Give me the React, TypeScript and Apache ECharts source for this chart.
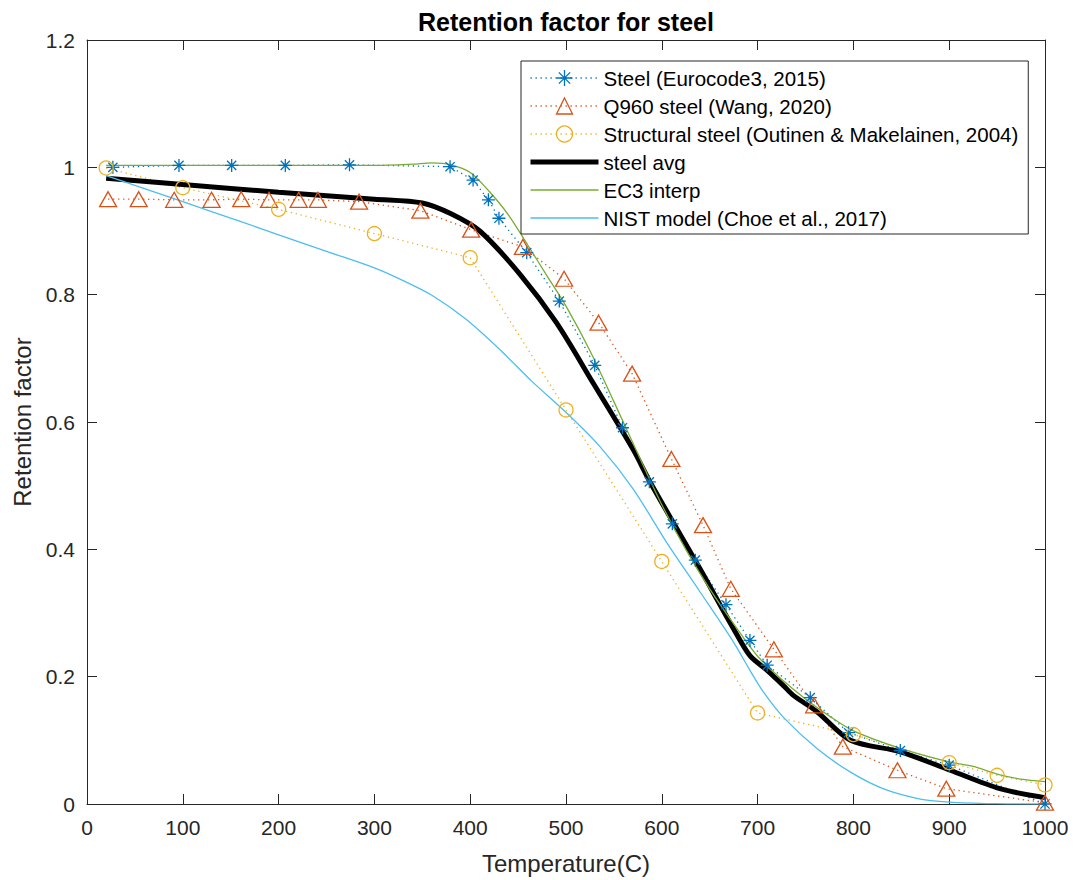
import React, { useEffect, useRef } from "react";
import * as echarts from "echarts";

const FONT = '"Liberation Sans", Arial, Helvetica, sans-serif';
const AXIS_COLOR = "#262626";

// Steel (Eurocode3, 2015)
const ec3Temp = [27, 96, 151, 207, 274, 379, 403, 419, 430, 459, 493, 530, 559, 587, 611, 635, 667, 692, 710, 755, 795, 849, 900, 1000];
const ec3Val = [1.0, 1.003, 1.003, 1.003, 1.004, 1.001, 0.98, 0.949, 0.92, 0.866, 0.79, 0.689, 0.591, 0.506, 0.44, 0.383, 0.313, 0.257, 0.218, 0.167, 0.112, 0.084, 0.061, 0.0];

// Q960 steel (Wang, 2020)
const q960Temp = [22, 54, 91, 130, 161, 190, 221, 241, 284, 348, 401, 455, 498, 534, 569, 610, 643, 672, 717, 759, 789, 846, 897, 1000];
const q960Val = [0.95, 0.95, 0.949, 0.949, 0.95, 0.949, 0.949, 0.949, 0.946, 0.932, 0.902, 0.875, 0.825, 0.756, 0.676, 0.542, 0.438, 0.338, 0.243, 0.155, 0.09, 0.053, 0.024, 0.002];

// Structural steel (Outinen & Makelainen, 2004)
const structTemp = [20, 100, 200, 300, 400, 500, 600, 700, 800, 900, 950, 1000];
const structVal = [0.999, 0.968, 0.934, 0.896, 0.858, 0.619, 0.381, 0.143, 0.109, 0.065, 0.045, 0.03];

// steel avg
const avgTemp = [20, 100, 200, 300, 350, 380, 410, 452, 490, 528, 570, 588, 640, 675, 692, 710, 727, 737, 762, 797, 849, 901, 953, 1000];
const avgVal = [0.983, 0.973, 0.961, 0.95, 0.944, 0.927, 0.9, 0.832, 0.756, 0.662, 0.557, 0.505, 0.369, 0.275, 0.233, 0.21, 0.186, 0.171, 0.145, 0.1, 0.082, 0.053, 0.024, 0.01];

// EC3 interp
const ec3iTemp = [20, 100, 200, 300, 340, 360, 380, 400, 420, 440, 460, 480, 500, 525, 550, 575, 600, 625, 650, 675, 700, 725, 750, 775, 800, 850, 900, 925, 950, 975, 1000];
const ec3iVal = [1.003, 1.003, 1.003, 1.003, 1.005, 1.007, 1.004, 0.992, 0.962, 0.925, 0.878, 0.83, 0.782, 0.712, 0.632, 0.55, 0.47, 0.4, 0.338, 0.283, 0.232, 0.196, 0.165, 0.138, 0.115, 0.087, 0.066, 0.059, 0.047, 0.039, 0.035];

// NIST model (Choe et al., 2017)
const nistTemp = [20, 100, 160, 200, 250, 300, 330, 360, 395, 430, 465, 500, 535, 570, 605, 640, 675, 692, 706, 727, 762, 797, 831, 866, 900, 950, 1000];
const nistVal = [0.987, 0.946, 0.915, 0.894, 0.868, 0.842, 0.822, 0.799, 0.762, 0.715, 0.663, 0.615, 0.562, 0.495, 0.411, 0.333, 0.254, 0.21, 0.176, 0.136, 0.087, 0.05, 0.024, 0.009, 0.003, 0.0005, 0.0];

const seriesNames = [
  "Steel (Eurocode3, 2015)",
  "Q960 steel (Wang, 2020)",
  "Structural steel (Outinen & Makelainen, 2004)",
  "steel avg",
  "EC3 interp",
  "NIST model (Choe et al., 2017)",
];

const BLUE = "#0072BD";
const ORANGE = "#D95319";
const YELLOW = "#EDB120";
const GREEN = "#77AC30";
const LIGHTBLUE = "#4DBEEE";

const ASTERISK = "path://M5,0L5,10M0,5L10,5M1.46,1.46L8.54,8.54M1.46,8.54L8.54,1.46";
const DOT: number[] = [1.3, 3.7];

const zip = (t: number[], v: number[]) => t.map((x, i) => [x, v[i]]);

export default function App() {
  const ref = useRef<HTMLDivElement>(null);

  useEffect(() => {
    if (!ref.current) return;
    const chart = echarts.init(ref.current, undefined, { renderer: "svg" });

    const axisCommon = {
      type: "value" as const,
      axisLine: { show: true, onZero: false, lineStyle: { color: AXIS_COLOR, width: 1 } },
      axisTick: { show: true, inside: true, length: 10, lineStyle: { color: AXIS_COLOR, width: 1 } },
      splitLine: { show: false },
    };

    const transparent = "rgba(0,0,0,0)";

    const option: any = {
      animation: false,
      backgroundColor: "#fff",
      title: {
        text: "Retention factor for steel",
        left: 566,
        top: 9,
        padding: 0,
        textAlign: "center",
        textVerticalAlign: "top",
        textStyle: { fontFamily: FONT, fontSize: 25, fontWeight: "bold", color: "#000" },
      },
      grid: { left: 87, right: 30, top: 40, bottom: 74.5 },
      xAxis: [
        {
          ...axisCommon,
          position: "bottom",
          min: 0,
          max: 1000,
          interval: 100,
          axisLabel: {
            color: AXIS_COLOR,
            fontSize: 21,
            fontFamily: FONT,
            margin: 13,
            formatter: (v: number) => String(v),
          },
          name: "Temperature(C)",
          nameLocation: "middle",
          nameGap: 47,
          nameTextStyle: { fontSize: 24, color: AXIS_COLOR, fontFamily: FONT },
        },
        {
          ...axisCommon,
          position: "top",
          min: 0,
          max: 1000,
          interval: 100,
          axisLabel: { show: false },
        },
      ],
      yAxis: [
        {
          ...axisCommon,
          position: "left",
          min: 0,
          max: 1.2,
          interval: 0.2,
          axisLabel: {
            color: AXIS_COLOR,
            fontSize: 21,
            fontFamily: FONT,
            margin: 12,
            formatter: (v: number) => String(Math.round(v * 10) / 10),
          },
          name: "Retention factor",
          nameLocation: "middle",
          nameGap: 52,
          nameTextStyle: { fontSize: 24, color: AXIS_COLOR, fontFamily: FONT },
        },
        {
          ...axisCommon,
          position: "right",
          min: 0,
          max: 1.2,
          interval: 0.2,
          axisLabel: { show: false },
        },
      ],
      legend: {
        orient: "vertical",
        left: 521,
        top: 61,
        padding: [3, 10, 2, 7],
        itemWidth: 68,
        itemHeight: 20,
        itemGap: 0,
        selectedMode: false,
        backgroundColor: "#fff",
        borderColor: AXIS_COLOR,
        borderWidth: 1,
        textStyle: { fontFamily: FONT, fontSize: 20.5, color: "#000", lineHeight: 28 },
        data: [
          {
            name: seriesNames[0],
            itemStyle: { color: transparent, borderColor: BLUE, borderWidth: 1.3 },
            lineStyle: { color: BLUE, width: 1.3, type: DOT },
          },
          {
            name: seriesNames[1],
            itemStyle: { color: transparent, borderColor: ORANGE, borderWidth: 1.3 },
            lineStyle: { color: ORANGE, width: 1.3, type: DOT },
          },
          {
            name: seriesNames[2],
            itemStyle: { color: transparent, borderColor: YELLOW, borderWidth: 1.3 },
            lineStyle: { color: YELLOW, width: 1.3, type: DOT },
          },
          {
            name: seriesNames[3],
            itemStyle: { opacity: 0 },
            lineStyle: { color: "#000", width: 5, type: "solid" },
          },
          {
            name: seriesNames[4],
            itemStyle: { opacity: 0 },
            lineStyle: { color: GREEN, width: 1.3, type: "solid" },
          },
          {
            name: seriesNames[5],
            itemStyle: { opacity: 0 },
            lineStyle: { color: LIGHTBLUE, width: 1.3, type: "solid" },
          },
        ],
      },
      series: [
        {
          name: seriesNames[0],
          type: "line",
          data: zip(ec3Temp, ec3Val),
          symbol: ASTERISK,
          symbolSize: 13,
          showAllSymbol: true,
          lineStyle: { color: BLUE, width: 1.3, type: DOT },
          itemStyle: { color: transparent, borderColor: BLUE, borderWidth: 1.3 },
          emphasis: { disabled: true },
          silent: true,
        },
        {
          name: seriesNames[1],
          type: "line",
          data: zip(q960Temp, q960Val),
          symbol: "triangle",
          symbolSize: [17, 15],
          showAllSymbol: true,
          lineStyle: { color: ORANGE, width: 1.3, type: DOT },
          itemStyle: { color: transparent, borderColor: ORANGE, borderWidth: 1.3 },
          emphasis: { disabled: true },
          silent: true,
        },
        {
          name: seriesNames[2],
          type: "line",
          data: zip(structTemp, structVal),
          symbol: "circle",
          symbolSize: 14,
          showAllSymbol: true,
          lineStyle: { color: YELLOW, width: 1.3, type: DOT },
          itemStyle: { color: transparent, borderColor: YELLOW, borderWidth: 1.3 },
          emphasis: { disabled: true },
          silent: true,
        },
        {
          name: seriesNames[3],
          type: "line",
          data: zip(avgTemp, avgVal),
          symbol: "none",
          smooth: 0.3,
          lineStyle: { color: "#000", width: 5 },
          itemStyle: { color: "#000" },
          emphasis: { disabled: true },
          silent: true,
        },
        {
          name: seriesNames[4],
          type: "line",
          data: zip(ec3iTemp, ec3iVal),
          symbol: "none",
          smooth: 0.3,
          lineStyle: { color: GREEN, width: 1.3 },
          itemStyle: { color: GREEN },
          emphasis: { disabled: true },
          silent: true,
        },
        {
          name: seriesNames[5],
          type: "line",
          data: zip(nistTemp, nistVal),
          symbol: "none",
          smooth: 0.3,
          lineStyle: { color: LIGHTBLUE, width: 1.3 },
          itemStyle: { color: LIGHTBLUE },
          emphasis: { disabled: true },
          silent: true,
        },
      ],
    };

    chart.setOption(option);
    return () => {
      chart.dispose();
    };
  }, []);

  return (
    <div
      ref={ref}
      style={{ position: "fixed", left: 0, top: 0, width: 1075, height: 880, background: "#fff" }}
    />
  );
}
